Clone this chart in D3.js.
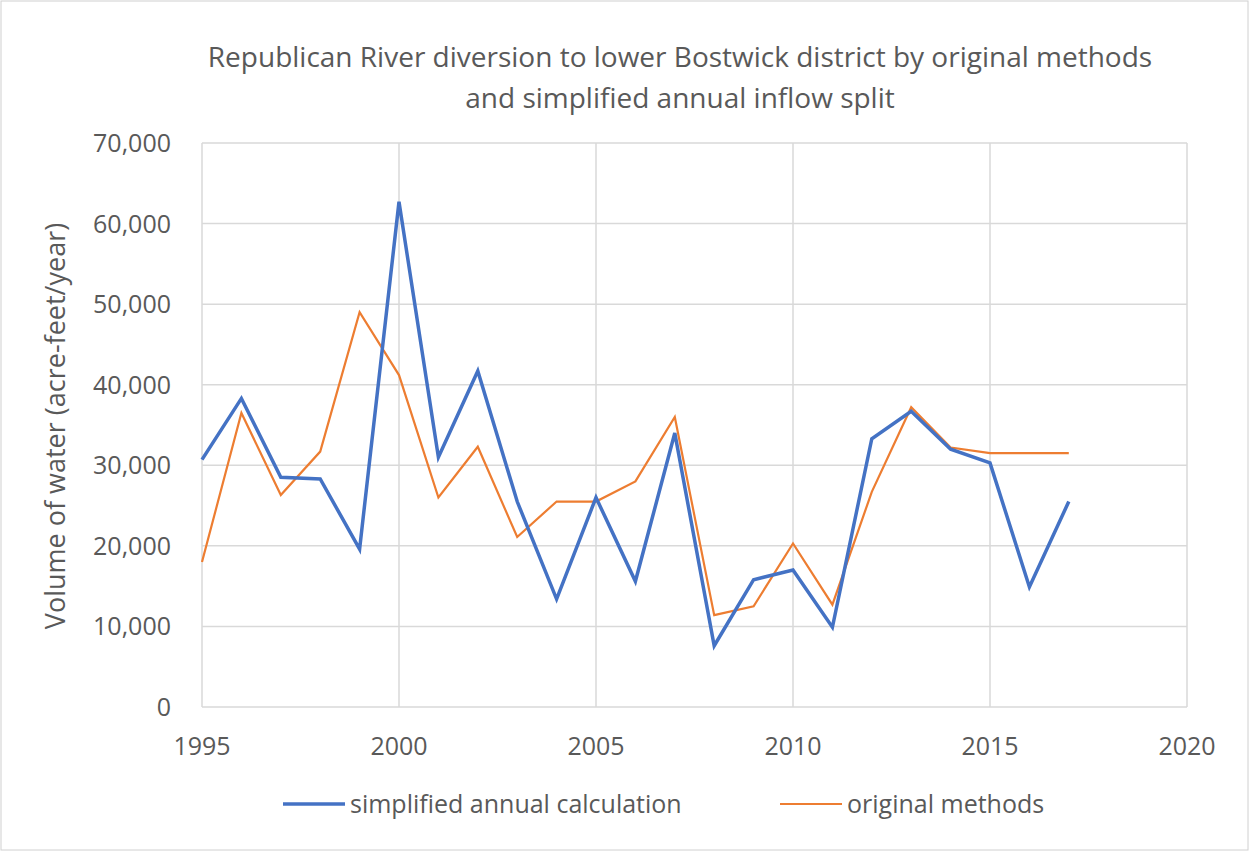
<!DOCTYPE html><html><head><meta charset="utf-8"><script src="https://cdn.jsdelivr.net/npm/d3@7"></script>
<style>body{margin:0;background:#fff}text{font-family:"Open Sans",sans-serif;fill:#595959}</style></head><body><svg id="c" width="1249" height="851"></svg><script>
const years=d3.range(1995,2018);
const simplified=[30700,38300,28500,28300,19600,62700,31000,41700,25500,13400,26000,15600,34000,7600,15800,17000,9900,33300,36700,32000,30300,14900,25500];
const original=[18000,36500,26300,31700,49000,41200,26000,32300,21100,25500,25500,28000,36000,11400,12500,20300,12700,26700,37200,32200,31500,31500,31500];
const xTicks=[1995,2000,2005,2010,2015,2020];
const yTicks=d3.range(0,70001,10000);
const svg=d3.select("#c");
svg.append("rect").attr("x",1).attr("y",1).attr("width",1247).attr("height",849).attr("fill","#fff").attr("stroke","#d0d0d0");
const x=d3.scaleLinear().domain([1995,2020]).range([202,1187]);
const y=d3.scaleLinear().domain([0,70000]).range([707,143]);
const g=svg.append("g");
g.selectAll(".hg").data(yTicks).join("line").attr("x1",202).attr("x2",1187).attr("y1",d=>y(d)).attr("y2",d=>y(d)).attr("stroke","#d9d9d9").attr("stroke-width",1.5);
g.selectAll(".vg").data(xTicks).join("line").attr("y1",143).attr("y2",707).attr("x1",d=>x(d)).attr("x2",d=>x(d)).attr("stroke","#d9d9d9").attr("stroke-width",1.5);
g.selectAll(".yt").data(yTicks).join("text").attr("x",171).attr("y",d=>y(d)+9).attr("text-anchor","end").attr("font-size",25).text(d=>d3.format(",")(d));
g.selectAll(".xt").data(xTicks).join("text").attr("x",d=>x(d)).attr("y",755).attr("text-anchor","middle").attr("font-size",25).text(d=>d);
svg.append("text").attr("transform","translate(65,426) rotate(-90)").attr("text-anchor","middle").attr("font-size",27).text("Volume of water (acre-feet/year)");
svg.append("text").attr("x",680).attr("y",67).attr("text-anchor","middle").attr("font-size",28).text("Republican River diversion to lower Bostwick district by original methods");
svg.append("text").attr("x",680).attr("y",108).attr("text-anchor","middle").attr("font-size",28).text("and simplified annual inflow split");
const line=v=>d3.line().x((d,i)=>x(years[i])).y(d=>y(d))(v);
svg.append("path").attr("d",line(original)).attr("fill","none").attr("stroke","#ED7D31").attr("stroke-width",2.2);
svg.append("path").attr("d",line(simplified)).attr("fill","none").attr("stroke","#4472C4").attr("stroke-width",3.5);
svg.append("line").attr("x1",283).attr("x2",345).attr("y1",804).attr("y2",804).attr("stroke","#4472C4").attr("stroke-width",3.5);
svg.append("text").attr("x",350).attr("y",813).attr("font-size",25).text("simplified annual calculation");
svg.append("line").attr("x1",780).attr("x2",842).attr("y1",804).attr("y2",804).attr("stroke","#ED7D31").attr("stroke-width",2.2);
svg.append("text").attr("x",847).attr("y",813).attr("font-size",25).text("original methods");
</script></body></html>
